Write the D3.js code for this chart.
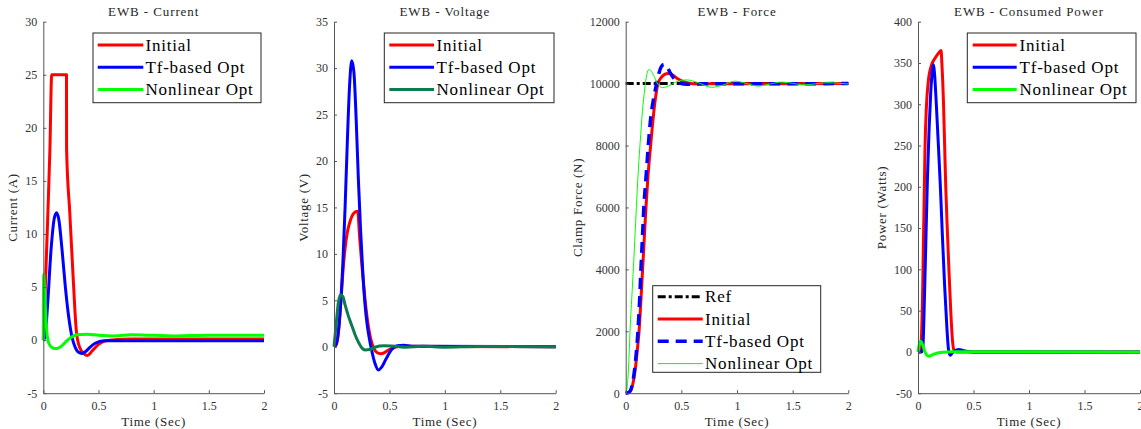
<!DOCTYPE html>
<html><head><meta charset="utf-8">
<script src="https://cdn.jsdelivr.net/npm/d3@7"></script>
<style>
html,body{margin:0;padding:0;background:#fff;}
svg{display:block;}
svg text{font-family:"Liberation Serif","DejaVu Serif",serif !important;fill:#262626;}
</style></head>
<body>
<svg id="chart" width="1141" height="429"></svg>
<script>
// ---------------- DATA ----------------
const xTicks = [0, 0.5, 1, 1.5, 2];
const seriesNames = ["Initial", "Tf-based Opt", "Nonlinear Opt"];
const forceNames = ["Ref", "Initial", "Tf-based Opt", "Nonlinear Opt"];
const titles = ["EWB - Current", "EWB - Voltage", "EWB - Force", "EWB - Consumed Power"];
const yLabels = ["Current (A)", "Voltage (V)", "Clamp Force (N)", "Power (Watts)"];
const yTicksCurrent = [-5, 0, 5, 10, 15, 20, 25, 30];
const yTicksVoltage = [-5, 0, 5, 10, 15, 20, 25, 30, 35];
const yTicksForce = [0, 2000, 4000, 6000, 8000, 10000, 12000];
const yTicksPower = [-50, 0, 50, 100, 150, 200, 250, 300, 350, 400];

// Current
const curInitT = [0, 0.02, 0.04, 0.06, 0.076, 0.21, 0.211, 0.24, 0.27, 0.30, 0.33, 0.37, 0.40, 0.44, 0.50, 0.60, 0.80, 1.2, 2];
const curInitV = [0, 5.5, 11.5, 18, 25, 25, 18, 12, 6, 0.8, -0.7, -1.3, -1.45, -1.05, -0.4, 0.0, 0.1, 0.1, 0.1];
const curTfT = [0, 0.015, 0.04, 0.07, 0.10, 0.12, 0.14, 0.17, 0.20, 0.23, 0.26, 0.29, 0.32, 0.35, 0.38, 0.42, 0.47, 0.55, 0.8, 2];
const curTfV = [0, 0.3, 3.5, 8.5, 11.5, 12, 11.4, 8.5, 5, 2.2, 0.3, -0.7, -1.15, -1.25, -1.1, -0.7, -0.3, -0.05, -0.05, -0.05];
const curNlT = [0, 0.004, 0.01, 0.02, 0.03, 0.05, 0.08, 0.12, 0.16, 0.20, 0.25, 0.30, 0.40, 0.50, 0.65, 0.80, 1.0, 1.2, 1.5, 2];
const curNlV = [0, 6.2, 5.0, 2.8, 1.0, -0.3, -0.7, -0.8, -0.6, -0.2, 0.25, 0.5, 0.55, 0.45, 0.4, 0.5, 0.45, 0.4, 0.45, 0.45];

// Voltage
const volInitT = [0, 0.02, 0.04, 0.06, 0.08, 0.10, 0.12, 0.14, 0.16, 0.18, 0.21, 0.215, 0.23, 0.25, 0.27, 0.29, 0.31, 0.33, 0.36, 0.39, 0.42, 0.46, 0.50, 0.55, 0.60, 2];
const volInitV = [0, 0.2, 1.5, 4.5, 8, 10.6, 12.3, 13.3, 14, 14.4, 14.6, 14.5, 12, 9, 6.3, 4, 2.2, 0.9, -0.2, -0.65, -0.75, -0.6, -0.3, -0.05, 0.05, 0];
const volTfT = [0, 0.02, 0.05, 0.08, 0.10, 0.12, 0.14, 0.16, 0.18, 0.20, 0.22, 0.24, 0.26, 0.28, 0.30, 0.32, 0.34, 0.37, 0.40, 0.43, 0.47, 0.52, 0.57, 0.63, 0.70, 2];
const volTfV = [0, 0.3, 3, 9, 15, 22, 28, 30.8, 29.5, 24.5, 18, 12.5, 8, 4.5, 2.3, 0.8, -0.4, -1.8, -2.5, -2.2, -1.3, -0.3, 0.1, 0.15, 0.05, 0];
const volNlT = [0, 0.02, 0.04, 0.06, 0.08, 0.10, 0.13, 0.16, 0.19, 0.22, 0.25, 0.28, 0.32, 0.37, 0.45, 0.55, 0.65, 0.80, 1.0, 1.3, 2];
const volNlV = [0, 2.5, 4.8, 5.6, 5.4, 4.5, 3.3, 2.3, 1.3, 0.5, -0.1, -0.35, -0.3, -0.05, 0.1, 0.05, -0.05, 0.05, -0.05, 0.03, 0];

// Force
const refT = [0, 2];
const refV = [10000, 10000];
const frcInitT = [0, 0.03, 0.05, 0.07, 0.09, 0.11, 0.12, 0.135, 0.152, 0.167, 0.182, 0.20, 0.224, 0.25, 0.27, 0.29, 0.32, 0.35, 0.38, 0.42, 0.47, 0.55, 0.65, 0.80, 2];
const frcInitV = [0, 30, 120, 400, 900, 1600, 2000, 2900, 4000, 5000, 6000, 7000, 8000, 9000, 9600, 10000, 10200, 10300, 10330, 10280, 10150, 10030, 9990, 9995, 10000];
const frcTfT = [0, 0.03, 0.05, 0.07, 0.09, 0.11, 0.125, 0.137, 0.15, 0.163, 0.183, 0.203, 0.225, 0.25, 0.278, 0.30, 0.32, 0.344, 0.37, 0.40, 0.43, 0.47, 0.52, 0.60, 0.70, 2];
const frcTfV = [0, 30, 150, 500, 1100, 2000, 3000, 4000, 5000, 6000, 7000, 8000, 8900, 9500, 10000, 10350, 10550, 10620, 10550, 10350, 10180, 10050, 9990, 9975, 9995, 10000];
const frcNlT = [0, 0.01, 0.02, 0.03, 0.04, 0.055, 0.07, 0.085, 0.10, 0.115, 0.13, 0.15, 0.17, 0.19, 0.21, 0.23, 0.26, 0.29, 0.33, 0.37, 0.45, 0.55, 0.65, 0.77, 0.88, 0.98, 1.08, 1.19, 1.30, 1.40, 1.50, 1.60, 1.70, 1.82, 1.92, 2];
const frcNlV = [0, 100, 500, 1200, 2100, 3100, 4100, 5200, 6300, 7300, 8100, 9100, 9800, 10300, 10460, 10400, 10200, 9980, 9870, 9900, 10050, 10120, 10030, 9880, 9960, 10080, 10010, 9920, 9990, 10050, 10010, 9960, 9990, 10030, 10010, 9990];

// Power
const pwrInitT = [0, 0.02, 0.03, 0.04, 0.048, 0.056, 0.063, 0.075, 0.093, 0.123, 0.15, 0.18, 0.208, 0.215, 0.23, 0.24, 0.25, 0.265, 0.28, 0.295, 0.31, 0.325, 0.35, 2];
const pwrInitV = [0, 0, 15, 60, 125, 190, 246, 295, 328, 348, 355, 361, 365, 350, 300, 250, 200, 145, 95, 50, 15, 2, 0, 0];
const pwrTfT = [0, 0.035, 0.045, 0.055, 0.07, 0.085, 0.10, 0.115, 0.13, 0.138, 0.15, 0.165, 0.18, 0.20, 0.22, 0.24, 0.26, 0.275, 0.29, 0.31, 0.34, 0.37, 0.40, 0.45, 0.50, 2];
const pwrTfV = [0, 0, 8, 50, 130, 210, 270, 315, 342, 348, 335, 300, 260, 205, 140, 80, 30, 3, -4, -1, 2, 3, 2, 0.5, 0, 0];
const pwrNlT = [0, 0.01, 0.025, 0.04, 0.06, 0.08, 0.10, 0.13, 0.17, 0.22, 0.30, 0.50, 2];
const pwrNlV = [0, 8, 13, 9, 1, -4, -5, -3.5, -1.5, -0.5, 0.3, 0.2, 0];

// ---------------- DRAW ----------------
const RED = "#ff0000", BLUE = "#0000ff", GREEN = "#00ff00", DKGREEN = "#0b7b50";
const svg = d3.select("#chart");
const zip = (t, v) => t.map((x, i) => [x, v[i]]);

const panels = [
  {left: 43.3, right: 264, yDom: [-5, 30], yTicks: yTicksCurrent, yLabX: 13,
   series: [
     {d: zip(curInitT, curInitV), c: RED, w: 3},
     {d: zip(curTfT, curTfV), c: BLUE, w: 3},
     {d: zip(curNlT, curNlV), c: GREEN, w: 3}],
   legend: {x0: 93, y0: 33, x1: 261, y1: 102.7, names: seriesNames,
     styles: [{c: RED, w: 3}, {c: BLUE, w: 3}, {c: GREEN, w: 3}], lx0: 97.7, lx1: 143.3, tx: 145.5, ry: 45, rs: 22.2}},
  {left: 334, right: 555.7, yDom: [-5, 35], yTicks: yTicksVoltage, yLabX: 303.5,
   series: [
     {d: zip(volInitT, volInitV), c: RED, w: 3},
     {d: zip(volTfT, volTfV), c: BLUE, w: 3},
     {d: zip(volNlT, volNlV), c: DKGREEN, w: 3}],
   legend: {x0: 384.3, y0: 33, x1: 554, y1: 102.7, names: seriesNames,
     styles: [{c: RED, w: 3}, {c: BLUE, w: 3}, {c: DKGREEN, w: 3}], lx0: 389.3, lx1: 434, tx: 436.5, ry: 45, rs: 22.2}},
  {left: 625.7, right: 848.3, yDom: [0, 12000], yTicks: yTicksForce, yLabX: 577.5,
   series: [
     {d: zip(refT, refV), c: "#000", w: 3, dash: "8,3,3,3"},
     {d: zip(frcInitT, frcInitV), c: RED, w: 3},
     {d: zip(frcTfT, frcTfV), c: BLUE, w: 3.5, dash: "11,7"},
     {d: zip(frcNlT, frcNlV), c: GREEN, w: 1}],
   legend: {x0: 652.7, y0: 285.7, x1: 820.7, y1: 372.3, names: forceNames,
     styles: [{c: "#000", w: 3, dash: "8,3,3,3"}, {c: RED, w: 3}, {c: BLUE, w: 3.5, dash: "11,7"}, {c: GREEN, w: 1}],
     lx0: 657.7, lx1: 702.7, tx: 705, ry: 296.7, rs: 22.3}},
  {left: 918, right: 1140, yDom: [-50, 400], yTicks: yTicksPower, yLabX: 882,
   series: [
     {d: zip(pwrInitT, pwrInitV), c: RED, w: 3},
     {d: zip(pwrTfT, pwrTfV), c: BLUE, w: 3},
     {d: zip(pwrNlT, pwrNlV), c: GREEN, w: 3}],
   legend: {x0: 967.3, y0: 33, x1: 1136, y1: 102.7, names: seriesNames,
     styles: [{c: RED, w: 3}, {c: BLUE, w: 3}, {c: GREEN, w: 3}], lx0: 972.7, lx1: 1016.7, tx: 1019.5, ry: 45, rs: 22.2}}
];

const TOP = 21.7, BOTTOM = 393.2;

panels.forEach((p, i) => {
  const x = d3.scaleLinear().domain([0, 2]).range([p.left, p.right]);
  const y = d3.scaleLinear().domain(p.yDom).range([BOTTOM, TOP]);
  const g = svg.append("g");

  const line = d3.line().x(d => x(d[0])).y(d => y(d[1])).curve(d3.curveMonotoneX);
  p.series.forEach(s => {
    g.append("path").datum(s.d).attr("d", line)
      .attr("fill", "none").attr("stroke", s.c).attr("stroke-width", s.w)
      .attr("stroke-linejoin", "round")
      .attr("stroke-dasharray", s.dash || null);
  });

  const xAxis = d3.axisBottom(x).tickValues(xTicks).tickFormat(d => String(d))
    .tickSizeInner(-3).tickSizeOuter(0).tickPadding(8);
  const yAxis = d3.axisLeft(y).tickValues(p.yTicks).tickFormat(d => String(d))
    .tickSizeInner(-3).tickSizeOuter(0).tickPadding(6);
  const gx = g.append("g").attr("transform", `translate(0,${BOTTOM})`).call(xAxis);
  const gy = g.append("g").attr("transform", `translate(${p.left},0)`).call(yAxis);
  [gx, gy].forEach(a => {
    a.attr("font-family", null);
    a.select(".domain").attr("stroke", "#555").attr("stroke-width", 1);
    a.selectAll(".tick line").attr("stroke", "#555");
    a.selectAll(".tick text").attr("font-size", 12).style("fill", "#333");
  });

  g.append("text").attr("x", (p.left + p.right) / 2).attr("y", 16)
    .attr("text-anchor", "middle").attr("font-size", 13).attr("letter-spacing", 0.9)
    .text(titles[i]);
  g.append("text").attr("x", (p.left + p.right) / 2).attr("y", 426)
    .attr("text-anchor", "middle").attr("font-size", 13).attr("letter-spacing", 0.7)
    .text("Time (Sec)");
  g.append("text").attr("transform", `translate(${p.yLabX + 4},${(TOP + BOTTOM) / 2}) rotate(-90)`)
    .attr("text-anchor", "middle").attr("font-size", 13).attr("letter-spacing", 0.7)
    .text(yLabels[i]);

  const L = p.legend;
  g.append("rect").attr("x", L.x0).attr("y", L.y0).attr("width", L.x1 - L.x0).attr("height", L.y1 - L.y0)
    .attr("fill", "#fff").attr("stroke", "#262626").attr("stroke-width", 1);
  L.names.forEach((n, k) => {
    const st = L.styles[k];
    const yy = L.ry + k * L.rs;
    g.append("line").attr("x1", L.lx0).attr("x2", L.lx1).attr("y1", yy).attr("y2", yy)
      .attr("stroke", st.c).attr("stroke-width", st.w).attr("stroke-dasharray", st.dash || null);
    g.append("text").attr("x", L.tx).attr("y", yy + 5.5).attr("font-size", 17)
      .attr("letter-spacing", 0.8).style("fill", "#000").text(n);
  });
});
</script>
</body></html>
